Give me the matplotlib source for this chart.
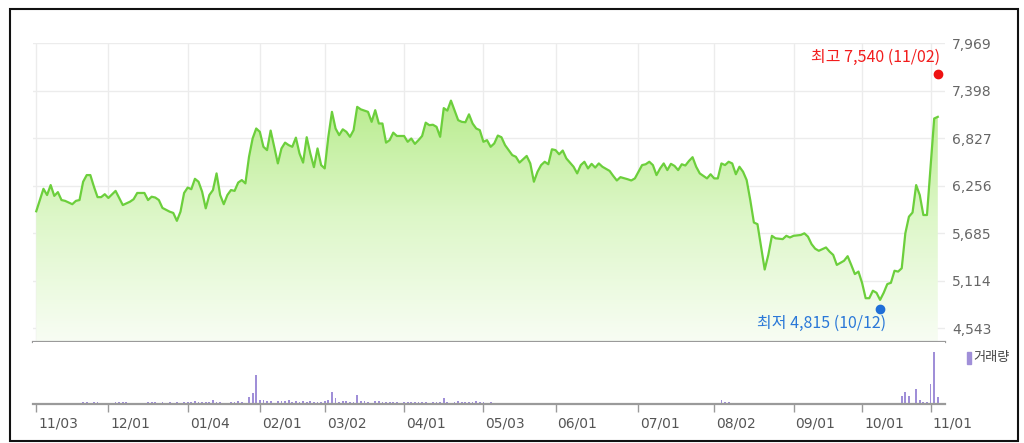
import numpy as np
import matplotlib
matplotlib.use('Agg')
import matplotlib.pyplot as plt
import matplotlib.transforms as mtransforms
from matplotlib.colors import LinearSegmentedColormap
from matplotlib.patches import Polygon, Rectangle

# trading-day number (0 = 11/03) and closing price
day = [0, 2, 3, 4, 5, 6, 7, 8, 10, 11, 12, 13, 14, 15, 16, 17, 18, 19, 20, 22,
       23, 24, 26, 27, 28, 30, 31, 32, 33, 34, 35, 37, 38, 39, 40, 41, 42, 43, 44, 45,
       46, 47, 48, 49, 50, 51, 52, 53, 54, 55, 56, 57, 58, 59, 60, 61, 62, 63, 64, 65,
       66, 67, 68, 69, 70, 71, 72, 73, 74, 75, 76, 77, 78, 79, 80, 81, 82, 83, 84, 85,
       86, 87, 88, 89, 90, 92, 93, 94, 95, 96, 97, 98, 99, 100, 102, 103, 104, 105, 106, 107,
       108, 109, 110, 111, 112, 113, 114, 115, 117, 118, 119, 120, 121, 122, 123, 124, 125, 126, 127, 128,
       129, 130, 132, 133, 134, 135, 136, 137, 138, 139, 140, 141, 142, 143, 144, 145, 146, 147, 149, 150,
       151, 152, 153, 154, 155, 156, 157, 159, 160, 161, 162, 164, 165, 166, 167, 168, 169, 170, 171, 172,
       173, 174, 175, 176, 177, 178, 179, 180, 181, 182, 183, 184, 186, 187, 188, 189, 190, 191, 192, 193,
       194, 195, 196, 197, 198, 199, 200, 201, 202, 203, 204, 205, 207, 208, 209, 210, 212, 213, 214, 215,
       216, 217, 219, 220, 221, 222, 223, 224, 225, 226, 227, 228, 229, 230, 231, 232, 233, 234, 235, 236,
       237, 238, 239, 240, 241, 242, 243, 244, 245, 246, 247, 248, 249, 250]
price = [5950, 6220, 6145, 6265, 6135, 6180, 6085, 6075, 6035, 6075, 6085, 6305, 6385, 6385, 6245, 6120, 6120, 6155, 6110, 6195,
         6110, 6025, 6065, 6095, 6170, 6170, 6085, 6125, 6115, 6085, 5990, 5945, 5930, 5835, 5945, 6170, 6235, 6215, 6340, 6305,
         6185, 5985, 6145, 6205, 6405, 6145, 6035, 6145, 6205, 6195, 6295, 6325, 6285, 6605, 6825, 6945, 6905, 6725, 6685, 6920,
         6725, 6525, 6705, 6775, 6745, 6725, 6835, 6645, 6535, 6840, 6645, 6480, 6705, 6505, 6465, 6845, 7145, 6945, 6865, 6935,
         6905, 6845, 6925, 7205, 7175, 7145, 7025, 7165, 7005, 7005, 6775, 6805, 6895, 6855, 6855, 6785, 6825, 6760, 6805, 6855,
         7015, 6985, 6990, 6965, 6845, 7190, 7160, 7280, 7045, 7025, 7020, 7115, 7005, 6945, 6925, 6785, 6805, 6725, 6765, 6860,
         6840, 6745, 6625, 6605, 6535, 6575, 6615, 6525, 6305, 6425, 6505, 6545, 6515, 6695, 6685, 6635, 6680, 6585, 6485, 6405,
         6505, 6545, 6465, 6520, 6475, 6525, 6485, 6435, 6375, 6320, 6360, 6335, 6320, 6345, 6425, 6505, 6515, 6545, 6505, 6385,
         6465, 6525, 6445, 6520, 6495, 6445, 6515, 6500, 6555, 6600, 6485, 6405, 6345, 6395, 6345, 6345, 6525, 6505, 6545, 6525,
         6395, 6485, 6425, 6325, 6085, 5815, 5795, 5525, 5250, 5425, 5655, 5625, 5615, 5655, 5635, 5655, 5665, 5685, 5645, 5555,
         5500, 5475, 5515, 5465, 5425, 5305, 5330, 5355, 5410, 5305, 5195, 5225, 5090, 4905, 4905, 4995, 4970, 4885, 4970, 5075,
         5090, 5235, 5225, 5265, 5685, 5885, 5935, 6265, 6145, 5905, 5905, 6485, 7065, 7085]

# volume (relative units)
vol_day = [5, 10, 13, 14, 16, 17, 22, 23, 24, 25, 31, 32, 33, 35, 37, 39, 41, 42, 43, 44,
           45, 46, 47, 48, 49, 50, 51, 54, 55, 56, 57, 59, 60, 61, 62, 63, 64, 65, 67, 68,
           69, 70, 71, 72, 73, 74, 75, 76, 77, 78, 79, 80, 81, 82, 83, 84, 85, 86, 87, 88,
           89, 90, 91, 92, 94, 95, 96, 97, 98, 99, 100, 102, 103, 104, 105, 106, 107, 108, 110, 111,
           112, 113, 114, 116, 117, 118, 119, 120, 121, 122, 123, 124, 126, 129, 131, 132, 135, 143, 146, 150,
           168, 169, 171, 179, 180, 190, 191, 192, 197, 198, 199, 200, 202, 230, 240, 241, 242, 244, 245, 246,
           247, 248, 249, 250]
vol = [15, 15, 20, 20, 20, 20, 20, 20, 20, 20, 20, 20, 20, 20, 20, 20, 20, 20, 20, 35,
       20, 20, 20, 20, 45, 20, 20, 20, 20, 35, 20, 70, 110, 290, 40, 40, 30, 35, 30, 30,
       30, 40, 20, 30, 25, 35, 20, 30, 20, 25, 20, 30, 40, 120, 60, 20, 30, 30, 20, 20,
       90, 30, 30, 25, 30, 30, 20, 25, 20, 25, 20, 20, 20, 20, 20, 20, 20, 20, 20, 20,
       25, 60, 20, 20, 30, 20, 20, 20, 20, 35, 20, 20, 20, 15, 15, 15, 15, 15, 15, 15,
       15, 15, 15, 15, 15, 40, 20, 20, 15, 15, 15, 15, 15, 15, 80, 120, 80, 155, 40, 20,
       20, 200, 520, 70]

tick_day = [0, 20, 42, 62, 80, 102, 124, 144, 167, 188, 210, 229, 248]
tick_lab = ['11/03', '12/01', '01/04', '02/01', '03/02', '04/01', '05/03',
            '06/01', '07/01', '08/02', '09/01', '10/01', '11/01']
y_ticks = [4543, 5114, 5685, 6256, 6827, 7398, 7969]

hi_day, hi_val, hi_lab = 250, 7540, '최고 7,540 (11/02)'
lo_day, lo_val, lo_lab = 234, 4815, '최저 4,815 (10/12)'

kr = ['Noto Sans CJK KR', 'DejaVu Sans']

fig = plt.figure(figsize=(10.24, 4.43), dpi=100)
W, H = 1024, 443

def box(x0, y0, x1, y1):
    return [x0 / W, 1 - y1 / H, (x1 - x0) / W, (y1 - y0) / H]

ax = fig.add_axes(box(33, 43.3, 945, 342.3))
axv = fig.add_axes(box(33, 342.3, 945, 404))

x0, x1 = -0.9, 252
ymin, ymax = 4375, 7969

# gradient area under the line
cmap = LinearSegmentedColormap.from_list('g', ['#f8fdf4', '#ddf7c8', '#b6eb8a'])
grad = np.linspace(0, 1, 256).reshape(-1, 1)
img = ax.imshow(grad, extent=[x0, x1, ymin, 7400], origin='lower', aspect='auto',
                cmap=cmap, zorder=1)
verts = [(day[0], ymin)] + list(zip(day, price)) + [(day[-1], ymin)]
poly = Polygon(verts, closed=True, facecolor='none', edgecolor='none')
ax.add_patch(poly)
img.set_clip_path(poly)
ax.plot(day, price, color='#6ccf3c', lw=1.6, zorder=3, solid_joinstyle='round')

ax.set_xlim(x0, x1)
ax.set_ylim(ymin, ymax)
ax.set_xticks(tick_day)
ax.set_xticklabels([])
ax.set_yticks(y_ticks)
ax.set_yticklabels([f'{v:,}' for v in y_ticks])
ax.yaxis.tick_right()
ax.tick_params(axis='both', length=0)
ax.tick_params(axis='y', pad=5, labelsize=10, labelcolor='#666666')
ax.grid(True, color='#ececec', lw=1, zorder=0)
ax.set_axisbelow(True)
for s in ['top', 'left', 'right']:
    ax.spines[s].set_visible(False)
ax.spines['bottom'].set_color('#9a9a9a')
ax.spines['bottom'].set_linewidth(1.6)

# high / low markers
up = mtransforms.offset_copy(ax.transData, fig=fig, y=5, units='dots')
dn = mtransforms.offset_copy(ax.transData, fig=fig, y=-3, units='dots')
ax.plot([hi_day], [hi_val], 'o', color='#ee1111', ms=6, transform=up, zorder=5, clip_on=False)
ax.plot([lo_day], [lo_val], 'o', color='#1f6fd8', ms=6, transform=dn, zorder=5, clip_on=False)
ax.annotate(hi_lab, (hi_day, hi_val), xytext=(2, 22), textcoords='offset pixels',
            ha='right', va='center', color='#f21c1c', fontsize=11.5, family=kr)
ax.annotate(lo_lab, (lo_day, lo_val), xytext=(6, -18), textcoords='offset pixels',
            ha='right', va='center', color='#2a78d8', fontsize=11.5, family=kr)

# volume
axv.bar(vol_day, vol, width=0.5, color='#a08fd8', zorder=2)
axv.set_xlim(x0, x1)
axv.set_ylim(0, max(vol) * 61.7 / 52)
axv.set_yticks([])
axv.set_xticks(tick_day)
axv.set_xticklabels(tick_lab)
axv.tick_params(axis='x', length=6, width=1, color='#999999', pad=3,
                labelsize=10, labelcolor='#555555')
shift = mtransforms.ScaledTranslation(2 / 100, 0, fig.dpi_scale_trans)
for lab in axv.get_xticklabels():
    lab.set_ha('left')
    lab.set_transform(lab.get_transform() + shift)
for s in ['top', 'left', 'right']:
    axv.spines[s].set_visible(False)
axv.spines['bottom'].set_color('#9a9a9a')
axv.spines['bottom'].set_linewidth(1.6)

# volume legend
fig.patches.append(Rectangle((967 / W, 1 - 364 / H), 3.5 / W, 12 / H,
                             transform=fig.transFigure, color='#a08fd8'))
fig.text(973 / W, 1 - 358 / H, '거래량', family=kr, fontsize=9.5, color='#444444',
         va='center', ha='left')

# outer frame
fig.patches.append(Rectangle((10 / W, 1 - 440.5 / H), 1008 / W, 432 / H,
                             transform=fig.transFigure, fill=False,
                             edgecolor='#111111', lw=1.5))

fig.savefig('out.png', dpi=100)
